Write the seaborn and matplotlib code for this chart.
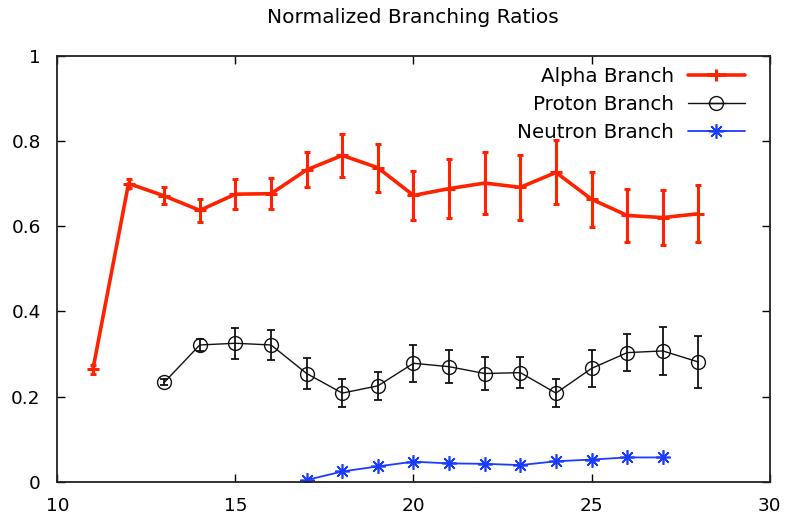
import numpy as np
import pandas as pd
import matplotlib
matplotlib.use("Agg")
import matplotlib.pyplot as plt
import seaborn as sns

# ---- data ----
alpha_x = [11, 12, 13, 14, 15, 16, 17, 18, 19, 20, 21, 22, 23, 24, 25, 26, 27, 28]
alpha_y = [0.264, 0.700, 0.671, 0.637, 0.675, 0.676, 0.732, 0.766, 0.737, 0.672,
           0.688, 0.701, 0.691, 0.726, 0.663, 0.625, 0.620, 0.629]
alpha_err = [0.010, 0.010, 0.020, 0.027, 0.035, 0.037, 0.041, 0.050, 0.056, 0.057,
             0.070, 0.073, 0.077, 0.075, 0.064, 0.063, 0.065, 0.067]

proton_x = [13, 14, 15, 16, 17, 18, 19, 20, 21, 22, 23, 24, 25, 26, 27, 28]
proton_y = [0.233, 0.321, 0.325, 0.321, 0.254, 0.208, 0.225, 0.278, 0.270, 0.254,
            0.256, 0.208, 0.266, 0.303, 0.307, 0.281]
proton_err = [0.007, 0.015, 0.036, 0.035, 0.037, 0.033, 0.033, 0.044, 0.039, 0.038,
              0.037, 0.032, 0.044, 0.043, 0.056, 0.062]

neutron_x = [17, 18, 19, 20, 21, 22, 23, 24, 25, 26, 27]
neutron_y = [0.004, 0.024, 0.036, 0.047, 0.043, 0.042, 0.039, 0.048, 0.052, 0.057, 0.057]
neutron_err = [0.0, 0.0, 0.0, 0.0, 0.0, 0.0, 0.0, 0.0, 0.0, 0.0, 0.0]

labels = ["Alpha Branch", "Proton Branch", "Neutron Branch"]
x_ticks = [10, 15, 20, 25, 30]
y_ticks = [0, 0.2, 0.4, 0.6, 0.8, 1]
y_tick_labels = ["0", "0.2", "0.4", "0.6", "0.8", "1"]
title = "Normalized Branching Ratios"

sns.set_theme(style="ticks")
plt.rcParams["font.family"] = ["DejaVu Sans"]
plt.rcParams["text.color"] = "black"

fig = plt.figure(figsize=(7.85, 5.21), dpi=100)
ax = fig.add_axes([0.073, 0.0754, 0.9075, 0.8177])

asterisk = (8, 2, 0)
styles = [
    dict(color="#ff2200", lw=2.6, marker="+", ms=9, mew=2.2, mfc="#ff2200", capsize=2, elw=2.2),
    dict(color="#111111", lw=1.0, marker="o", ms=10, mew=1.0, mfc="none", capsize=3, elw=1.3),
    dict(color="#1a3cff", lw=1.3, marker=asterisk, ms=10.5, mew=1.2, mfc="#1a3cff", capsize=3, elw=1.3),
]
series = [(alpha_x, alpha_y, alpha_err), (proton_x, proton_y, proton_err),
          (neutron_x, neutron_y, neutron_err)]

handles = []
for (xs, ys, es), lab, st in zip(series, labels, styles):
    df = pd.DataFrame({"x": xs, "y": ys})
    sns.lineplot(data=df, x="x", y="y", ax=ax, color=st["color"], lw=st["lw"],
                 marker=st["marker"], markersize=st["ms"], markeredgewidth=st["mew"],
                 markerfacecolor=st["mfc"], markeredgecolor=st["color"], legend=False)
    if any(e > 0 for e in es):
        ax.errorbar(xs, ys, yerr=es, fmt="none", ecolor=st["color"], elinewidth=st["elw"],
                    capsize=st["capsize"], capthick=st["elw"])
    h = ax.errorbar([], [], xerr=[], fmt="-", color=st["color"], lw=st["lw"],
                    marker=st["marker"], ms=st["ms"], mew=st["mew"], mfc=st["mfc"],
                    mec=st["color"], elinewidth=st["lw"], capsize=3, capthick=st["lw"])
    handles.append(h)

ax.set_xlim(10, 30)
ax.set_ylim(0, 1)
ax.set_xticks(x_ticks)
ax.set_yticks(y_ticks)
ax.set_yticklabels(y_tick_labels)
ax.set_xlabel("")
ax.set_ylabel("")
for s in ax.spines.values():
    s.set_visible(True)
    s.set_color("#222222")
    s.set_linewidth(1.3)
ax.tick_params(direction="in", top=True, right=True, length=6, width=1,
               labelsize=13.3, colors="black", labelcolor="black")
ax.tick_params(axis="y", pad=12)
ax.tick_params(axis="x", pad=11)

fig.text(412.5 / 785, 1 - 17.5 / 521, title, ha="center", va="center", fontsize=14.5,
         color="black")

leg = ax.legend(handles, labels, loc="upper right", frameon=False, markerfirst=False,
                fontsize=14.3, handlelength=2.85, handletextpad=0.7, labelspacing=0.45,
                borderpad=0, borderaxespad=0, bbox_to_anchor=(0.965, 0.974))
for t in leg.get_texts():
    t.set_color("black")

fig.savefig("out.png", dpi=100, facecolor="white")
